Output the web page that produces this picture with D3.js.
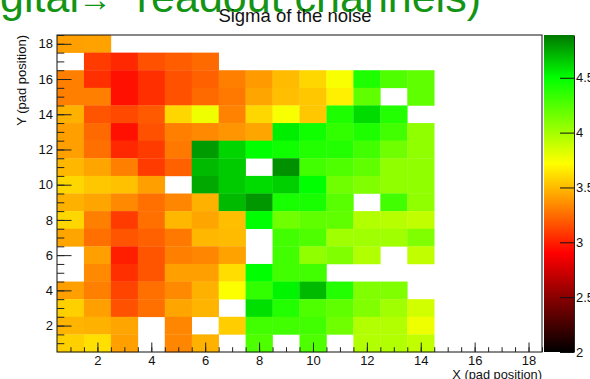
<!DOCTYPE html>
<html>
<head>
<meta charset="utf-8">
<script src="https://cdn.jsdelivr.net/npm/d3@7"></script>
<style>
  body { margin: 0; background: #fff; }
  svg { display: block; font-family: 'Liberation Sans', Arial, Helvetica, sans-serif; }
</style>
</head>
<body>
<svg id="chart" width="590" height="379"></svg>
<script>
// pad grid is 18 x 18, only x = 1..14 carry values
const xPads = d3.range(1, 19);
const yPads = d3.range(1, 19);

// sigma of the noise per pad, rows from y = 18 (top) down to y = 1, columns x = 1..14, null = empty pad
const sigmaRows = [
  [3.41, 3.42, null, null, null, null, null, null, null, null, null, null, null, null],
  [null, 3.09, 3.03, 3.16, 3.20, 3.24, null, null, null, null, null, null, null, null],
  [3.31, 3.05, 2.95, 3.05, 3.16, 3.21, 3.31, 3.40, 3.50, 3.59, 3.74, 4.41, 4.26, 4.21],
  [3.31, 3.31, 2.95, 3.05, 3.16, 3.24, 3.29, 3.43, 3.51, 3.54, 3.67, 4.21, null, 4.21],
  [3.47, 3.17, 3.13, 3.19, 3.59, 3.77, 3.32, 3.59, 3.74, 3.54, 4.41, 4.60, 4.40, null],
  [3.41, 3.24, 2.95, 3.16, 3.31, 3.34, 3.38, 3.43, 4.55, 4.45, 4.35, 4.41, 4.30, 4.06],
  [3.41, 3.26, 3.03, 3.09, 3.29, 4.79, 4.62, 4.50, 4.45, 4.40, 4.40, 4.30, 4.16, 4.06],
  [3.49, 3.43, 3.31, 3.09, 3.21, 4.70, 4.65, null, 4.82, 4.30, 4.26, 4.21, 4.06, 4.06],
  [3.59, 3.54, 3.52, 3.41, null, 4.75, 4.65, 4.60, 4.64, 4.50, 4.16, 4.11, 4.06, 4.06],
  [3.47, 3.43, 3.34, 3.26, 3.33, 3.47, 4.70, 4.80, 4.43, 4.43, 4.23, null, 4.30, 4.06],
  [3.59, 3.31, 3.09, 3.26, 3.49, 3.43, 3.51, 4.50, 4.16, 4.21, 4.21, 3.96, 3.94, 3.91],
  [3.43, 3.26, 3.17, 3.21, 3.29, 3.49, 3.50, null, 4.30, 4.26, 4.01, 4.01, 4.01, 4.11],
  [null, 3.41, 3.00, 3.17, 3.31, 3.33, 3.42, null, 4.30, 4.06, 4.11, 3.96, null, 3.91],
  [null, 3.34, 3.05, 3.17, 3.41, 3.41, 3.61, 4.50, 4.30, 4.30, null, null, null, null],
  [3.41, 3.31, 3.12, 3.26, 3.34, 3.47, 3.73, 4.35, 4.53, 4.70, 4.40, 4.11, 4.11, null],
  [3.57, 3.41, 3.16, 3.26, 3.43, 3.48, null, 4.59, 4.40, 4.26, 4.21, 4.11, 4.01, 3.86],
  [3.48, 3.47, 3.43, null, 3.33, null, 3.56, 4.30, 4.30, 4.30, 4.16, 3.96, 3.96, 3.77],
  [3.57, 3.62, 3.41, null, 3.33, 3.47, null, 4.26, null, 4.26, null, 3.96, 3.96, 3.91]
];

const xMajorTicks = [2, 4, 6, 8, 10, 12, 14, 16, 18];
const yMajorTicks = [2, 4, 6, 8, 10, 12, 14, 16, 18];
const zTicks = [2, 2.5, 3, 3.5, 4, 4.5];
const zRange = [2, 4.89];

const titleText = 'Sigma of the noise';
const xTitle = 'X (pad position)';
const yTitle = 'Y (pad position)';

const frame = { left: 57, right: 542, top: 35, bottom: 352 };
const pal = { left: 544, right: 574 };

const svg = d3.select('#chart');

const xScale = d3.scaleLinear().domain([0.5, 18.5]).range([frame.left, frame.right]);
const yScale = d3.scaleLinear().domain([0.5, 18.5]).range([frame.bottom, frame.top]);
const zScale = d3.scaleLinear().domain(zRange).range([frame.bottom, frame.top]);

const colour = d3.scaleLinear()
  .domain([2, 2.5, 2.9, 3.72, 4.5, 4.89])
  .range(['#000000', '#8a0000', '#ff0000', '#ffff00', '#00ff00', '#007800'])
  .clamp(true);

// flatten rows into cells
const cells = [];
sigmaRows.forEach((row, r) => {
  row.forEach((v, c) => {
    if (v != null) cells.push({ x: xPads[c], y: yPads[17 - r], v: v });
  });
});

// large green canvas label, clipped by the top of the window
const big = svg.append('g').attr('fill', '#149414').attr('font-size', 43);
big.append('text').attr('x', 79).attr('y', 12).attr('text-anchor', 'end').text('(Digital');
big.append('text').attr('x', 112).attr('y', 11).attr('text-anchor', 'end').attr('font-size', 34).text('\u2192');
big.append('text').attr('x', 481).attr('y', 12).attr('text-anchor', 'end').text('readout channels)');

svg.append('g').attr('class', 'cells')
  .selectAll('rect')
  .data(cells)
  .join('rect')
  .attr('x', d => xScale(d.x - 0.5))
  .attr('y', d => yScale(d.y + 0.5))
  .attr('width', d => xScale(d.x + 0.5) - xScale(d.x - 0.5) + 0.3)
  .attr('height', d => yScale(d.y - 0.5) - yScale(d.y + 0.5) + 0.3)
  .attr('fill', d => colour(d.v));

// frame
svg.append('rect')
  .attr('x', frame.left).attr('y', frame.top)
  .attr('width', frame.right - frame.left).attr('height', frame.bottom - frame.top)
  .attr('fill', 'none').attr('stroke', '#111').attr('stroke-width', 1);

const fontSize = 13;

// x axis, ticks point inward
const xAxisG = svg.append('g').attr('transform', `translate(0,${frame.bottom})`);
xAxisG.call(d3.axisBottom(xScale).tickValues(d3.range(1, 18.6, 0.5)).tickSize(-4.8).tickFormat(''))
  .call(g => g.select('.domain').remove());
xAxisG.append('g')
  .call(d3.axisBottom(xScale).tickValues(xMajorTicks).tickSize(-9.5).tickPadding(3.5).tickFormat(d3.format('d')))
  .call(g => g.select('.domain').remove());

// y axis
const yAxisG = svg.append('g').attr('transform', `translate(${frame.left},0)`);
yAxisG.call(d3.axisLeft(yScale).tickValues(d3.range(1, 18.6, 0.5)).tickSize(-7.3).tickFormat(''))
  .call(g => g.select('.domain').remove());
yAxisG.append('g')
  .call(d3.axisLeft(yScale).tickValues(yMajorTicks).tickSize(-14.5).tickPadding(4).tickFormat(d3.format('d')))
  .call(g => g.select('.domain').remove());

svg.selectAll('.tick line').attr('stroke', '#222');
svg.selectAll('.tick text').attr('font-size', fontSize).attr('font-family', null).attr('fill', '#111');

// palette
const grad = svg.append('defs').append('linearGradient')
  .attr('id', 'zgrad').attr('x1', 0).attr('y1', 1).attr('x2', 0).attr('y2', 0);
grad.selectAll('stop')
  .data(colour.domain())
  .join('stop')
  .attr('offset', d => (d - zRange[0]) / (zRange[1] - zRange[0]))
  .attr('stop-color', d => colour(d));

svg.append('rect')
  .attr('x', pal.left).attr('y', zScale(zRange[1]))
  .attr('width', pal.right - pal.left)
  .attr('height', zScale(zRange[0]) - zScale(zRange[1]))
  .attr('fill', 'url(#zgrad)');

const zAxisG = svg.append('g').attr('transform', `translate(${pal.right},0)`)
  .call(d3.axisRight(zScale).tickValues(zTicks).tickSize(-14).tickSizeOuter(0).tickPadding(2)
    .tickFormat(d => d3.format('')(d)));
zAxisG.select('.domain').attr('stroke', '#222');
zAxisG.selectAll('.tick line').attr('stroke', '#111');
zAxisG.selectAll('.tick text').attr('font-size', fontSize).attr('font-family', null).attr('fill', '#111');

// axis titles, right aligned at the axis ends
svg.append('text')
  .attr('x', frame.right).attr('y', 378.5)
  .attr('text-anchor', 'end')
  .attr('font-size', 12.8)
  .attr('fill', '#111')
  .text(xTitle);

svg.append('text')
  .attr('transform', `translate(26,${frame.top}) rotate(-90)`)
  .attr('text-anchor', 'end')
  .attr('font-size', fontSize)
  .attr('fill', '#111')
  .text(yTitle);

// histogram title, drawn over the green label
svg.append('text')
  .attr('x', 295).attr('y', 21.5)
  .attr('text-anchor', 'middle')
  .attr('font-size', 18.5)
  .attr('fill', '#111')
  .text(titleText);
</script>
</body>
</html>
